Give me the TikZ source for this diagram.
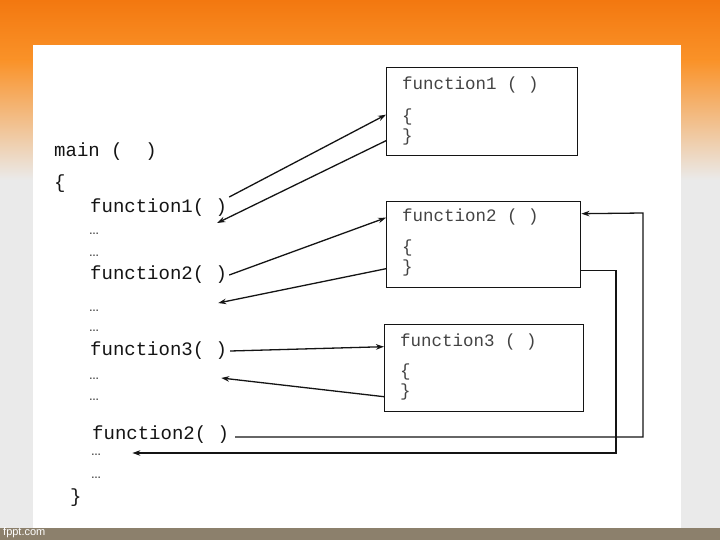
\documentclass[tikz,border=0pt]{standalone}
\usepackage{fontspec}
\newfontfamily\codefont{Liberation Mono}
\newfontfamily\logofont{Liberation Sans}
\usetikzlibrary{arrows.meta}
\definecolor{bgorange}{RGB}{243,120,16}
\definecolor{bgorangelt}{RGB}{250,146,40}
\definecolor{bggray}{RGB}{234,234,234}
\definecolor{barbrown}{RGB}{140,128,108}
\definecolor{ink}{RGB}{20,20,20}
\tikzset{
  code/.style={anchor=west, inner sep=0pt, text=ink, font=\codefont\fontsize{19}{19}\selectfont},
  boxcode/.style={anchor=west, inner sep=0pt, text=ink!80, font=\codefont\fontsize{17.5}{17.5}\selectfont},
  dots/.style={anchor=west, inner sep=0pt, text=ink!75, font=\logofont\bfseries\fontsize{10}{10}\selectfont},
  funcbox/.style={draw=ink, line width=1.4pt, inner sep=0pt, anchor=north west},
  call/.style={draw=ink, line width=1.3pt, -{Stealth[length=8pt,width=5.5pt]}},
}
\begin{document}
\begin{tikzpicture}[x=1pt, y=-1pt]
% slide background
\useasboundingbox (0,0) rectangle (720,540);
\shade[top color=bgorange, bottom color=bgorangelt] (0,0) rectangle (720,60);
\shade[top color=bgorangelt, bottom color=bggray] (0,60) rectangle (720,180);
\fill[bggray] (0,180) rectangle (720,528);
\fill[white] (33,45) rectangle (681,528);
\fill[barbrown] (0,528) rectangle (720,540);
\node[anchor=west, inner sep=0pt, text=white, font=\logofont\fontsize{11}{11}\selectfont] (logo) at (3,533) {fppt.com};

% main program
\node[code] (mainhd) at (54,152) {main (~~)};
\node[code] (mainopen) at (54,184) {\{};
\node[code] (call1) at (90,208) {function1(~)};
\node[dots] (dots1a) at (89,234) {…};
\node[dots] (dots1b) at (89,256) {…};
\node[code] (call2) at (90,275) {function2(~)};
\node[dots] (dots2a) at (89,311) {…};
\node[dots] (dots2b) at (89,331) {…};
\node[code] (call3) at (90,351) {function3(~)};
\node[dots] (dots3a) at (89,379) {…};
\node[dots] (dots3b) at (89,400) {…};
\node[code] (call4) at (92,435) {function2(~)};
\node[dots] (dots4a) at (91,455) {…};
\node[dots] (dots4b) at (91,478) {…};
\node[code] (mainclose) at (70,498) {\}};

% called functions
\node[funcbox, minimum width=191pt, minimum height=88pt] (b1) at (386,67) {};
\node[boxcode] (b1name) at (402,85) {function1 ( )};
\node[boxcode] (b1open) at (402,117) {\{};
\node[boxcode] (b1close) at (402,137) {\}};

\node[funcbox, minimum width=194pt, minimum height=86pt] (b2) at (386,201) {};
\node[boxcode] (b2name) at (402,217) {function2 ( )};
\node[boxcode] (b2open) at (402,248) {\{};
\node[boxcode] (b2close) at (402,268) {\}};

\node[funcbox, minimum width=199pt, minimum height=87pt] (b3) at (384,324) {};
\node[boxcode] (b3name) at (400,342) {function3 ( )};
\node[boxcode] (b3open) at (400,372) {\{};
\node[boxcode] (b3close) at (400,392) {\}};

% calls and returns
\draw[call] ([shift={(2pt,11pt)}]call1.east) -- ([yshift=-3pt]b1.west);
\draw[call] ([yshift=-29pt]b1.west) -- ([shift={(-10pt,-15pt)}]call1.east);
\draw[call] ([xshift=2pt]call2.east) -- ([yshift=27pt]b2.west);
\draw[call] ([yshift=-24pt]b2.west) -- ([shift={(-9pt,-28pt)}]call2.east);
\draw[call] ([xshift=3pt]call3.east) -- ([yshift=21.5pt]b3.west);
\draw[call] ([yshift=-28.5pt]b3.west) -- ([shift={(-6pt,-27pt)}]call3.east);
\draw[call] ([shift={(6pt,-2pt)}]call4.east) -| (643,213) -- ([yshift=31pt]b2.east);
\draw[call] ([yshift=-26pt]b2.east) -| (616,453) -- ([shift={(31pt,2pt)}]dots4a.east);
\end{tikzpicture}
\end{document}
